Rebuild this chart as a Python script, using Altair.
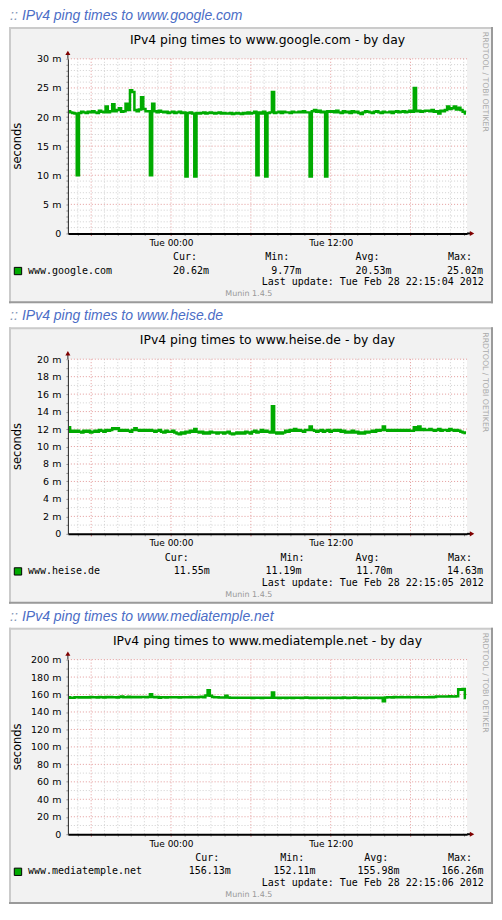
import altair as alt
import pandas as pd

# ------------------------------------------------------------------ data
START = pd.Timestamp("2012-02-27 16:15:00")
END = pd.Timestamp("2012-02-28 22:15:00")
FIRST_SAMPLE = pd.Timestamp("2012-02-27 16:20:00")
SAMPLE_STEP = pd.Timedelta(minutes=10)

hosts = ["www.google.com", "www.heise.de", "www.mediatemple.net"]

google_ms = [
    21.0, 20.8, 20.7, 20.6, 10.0, 20.7, 20.9, 20.8, 20.7, 20.9, 20.8, 21.0, 20.8, 20.7, 21.1, 20.9, 20.8, 21.8,
    20.8, 21.0, 22.2, 21.0, 21.2, 21.5, 20.9, 21.0, 22.3, 21.2, 24.6, 24.3, 21.2, 21.0, 21.3, 23.4, 21.4, 21.0,
    21.0, 10.0, 22.3, 21.0, 20.8, 21.1, 20.9, 20.8, 20.9, 20.7, 20.8, 20.9, 20.7, 20.8, 20.9, 20.7, 20.8, 9.8,
    20.7, 20.8, 20.6, 9.8, 20.7, 20.6, 20.7, 20.8, 20.6, 20.7, 20.8, 20.7, 20.6, 20.7, 20.8, 20.6, 20.7, 20.6,
    20.6, 20.7, 20.5, 20.6, 20.7, 20.6, 20.5, 20.7, 20.6, 20.8, 20.6, 20.7, 20.9, 10.0, 20.8, 20.6, 20.9, 9.8,
    20.7, 20.8, 24.3, 20.7, 20.8, 20.9, 20.7, 20.9, 20.8, 20.8, 20.7, 20.9, 20.8, 20.8, 20.9, 20.8, 21.0, 20.8,
    20.8, 9.8, 21.0, 21.2, 20.9, 21.1, 20.8, 20.9, 9.8, 21.0, 20.9, 21.0, 20.8, 21.1, 20.8, 20.7, 21.0, 20.8,
    20.9, 20.7, 21.0, 20.8, 20.9, 20.7, 20.5, 20.8, 21.0, 20.9, 20.8, 20.7, 20.9, 21.0, 20.8, 20.7, 20.9, 20.8,
    20.8, 20.9, 20.7, 20.9, 21.0, 20.8, 20.9, 21.0, 20.8, 20.9, 21.1, 20.9, 25.0, 21.0, 21.1, 20.9, 21.0, 21.1,
    21.1, 21.0, 21.2, 20.9, 21.0, 20.6, 21.1, 21.0, 21.2, 21.8, 21.4, 21.5, 21.8, 21.3, 21.6, 21.2, 20.9, 20.6,
]

heise_ms = [
    12.2, 11.7, 11.8, 11.7, 11.8, 11.7, 11.6, 11.8, 11.7, 11.8, 11.6, 11.7, 11.8, 11.7, 11.9, 11.8, 11.7, 11.9,
    11.8, 11.9, 12.1, 12.0, 12.1, 11.8, 11.9, 11.8, 11.9, 11.8, 11.7, 11.9, 12.1, 11.9, 11.8, 11.9, 11.8, 11.9,
    11.8, 11.9, 11.8, 11.7, 11.8, 11.9, 11.7, 11.6, 11.8, 11.7, 11.7, 11.8, 11.6, 11.5, 11.4, 11.6, 11.5, 11.7,
    11.6, 11.8, 11.7, 12.0, 11.7, 11.6, 11.7, 11.5, 11.6, 11.5, 11.7, 11.6, 11.6, 11.5, 11.6, 11.6, 11.5, 11.6,
    11.7, 11.5, 11.4, 11.5, 11.6, 11.5, 11.6, 11.5, 11.7, 11.6, 11.5, 11.7, 11.8, 11.6, 11.7, 11.9, 11.7, 11.8,
    11.7, 11.6, 14.6, 11.6, 11.5, 11.6, 11.5, 11.6, 11.8, 11.7, 11.9, 11.8, 12.0, 11.8, 11.9, 11.8, 11.7, 11.9,
    11.9, 12.3, 11.9, 11.8, 11.7, 11.8, 11.9, 11.7, 11.8, 11.9, 11.7, 11.8, 11.9, 11.8, 11.9, 11.7, 11.8, 11.6,
    11.7, 11.6, 11.8, 11.6, 11.7, 11.5, 11.6, 11.5, 11.7, 11.6, 11.7, 11.8, 11.7, 11.9, 11.8, 11.9, 12.3, 11.9,
    11.8, 11.9, 11.8, 11.9, 11.8, 11.9, 11.8, 11.9, 11.8, 11.9, 11.8, 11.8, 12.2, 11.9, 12.3, 11.9, 12.0, 11.9,
    11.9, 12.0, 11.9, 11.8, 11.9, 12.0, 11.8, 11.9, 11.9, 11.8, 12.0, 11.9, 11.8, 11.9, 11.8, 11.7, 11.6, 11.55,
]

mediatemple_ms = [
    157.0, 156.2, 156.3, 157.0, 156.8, 156.6, 157.0, 156.7, 157.0, 156.5, 157.2, 156.8, 157.0, 156.6, 157.1, 157.0, 156.7, 157.2,
    156.8, 157.2, 156.9, 157.0, 156.6, 157.2, 157.8, 157.0, 156.9, 157.4, 157.0, 157.2, 157.0, 157.1, 156.9, 157.2, 157.1, 157.0,
    157.1, 160.3, 157.2, 157.0, 157.1, 156.4, 156.8, 157.0, 156.6, 156.9, 157.0, 156.8, 157.0, 156.9, 156.7, 157.0, 156.8, 157.0,
    156.9, 157.1, 157.0, 156.8, 157.0, 157.1, 157.3, 157.0, 159.0, 164.9, 158.5, 157.2, 156.8, 157.0, 156.7, 156.6, 156.5, 158.7,
    156.5, 156.4, 156.3, 156.3, 156.2, 156.3, 156.2, 156.2, 156.3, 156.2, 156.2, 156.1, 156.2, 156.2, 156.2, 156.1, 156.2, 156.2,
    156.2, 156.2, 162.3, 156.2, 156.2, 156.1, 156.2, 156.2, 156.1, 156.2, 156.2, 156.1, 156.2, 156.2, 156.2, 156.1, 156.2, 156.6,
    156.2, 156.1, 156.2, 156.1, 156.2, 156.2, 156.1, 156.2, 156.2, 156.1, 156.2, 156.2, 156.1, 156.2, 156.2, 156.1, 156.5, 156.2,
    156.1, 156.2, 156.2, 156.6, 156.2, 156.1, 156.2, 156.2, 156.1, 156.2, 156.2, 156.1, 156.2, 156.2, 156.1, 156.2, 152.4, 156.6,
    156.8, 157.0, 156.6, 157.1, 157.0, 156.8, 157.2, 157.0, 156.9, 157.1, 157.0, 156.8, 157.0, 157.1, 156.9, 157.0, 156.8, 157.0,
    157.0, 157.1, 157.0, 157.2, 157.6, 157.8, 157.6, 157.8, 157.7, 157.8, 157.9, 157.7, 157.8, 158.0, 166.0, 165.5, 166.2, 156.1,
]

series = [google_ms, heise_ms, mediatemple_ms]
y_max = [30, 20, 200]
y_major_step = [5, 2, 20]
y_minor_step = [1, 1, 10]

stat_headers = ["Cur:", "Min:", "Avg:", "Max:"]
stat_cur = ["20.62m", "11.55m", "156.13m"]
stat_min = ["9.77m", "11.19m", "152.11m"]
stat_avg = ["20.53m", "11.70m", "155.98m"]
stat_max = ["25.02m", "14.63m", "166.26m"]
last_update = ["Tue Feb 28 22:15:04 2012", "Tue Feb 28 22:15:05 2012", "Tue Feb 28 22:15:06 2012"]

# legend text layout (pixels from plot origin)
header_x = [[105.3, 197.7, 288.3, 381.0], [97.0, 213.0, 288.3, 381.0], [127.7, 212.7, 297.0, 381.0]]
value_x = [[105.3, 203.7, 288.3, 380.0], [106.0, 198.0, 289.0, 380.0], [121.0, 206.0, 290.3, 374.3]]

# ------------------------------------------------------------------ style
SANS = "DejaVu Sans"
MONO = "DejaVu Sans Mono"
GREEN = "#00aa00"
ARROW = "#7f0000"
MAJOR = "#e39a9a"
MINOR = "#d0d0d0"
PANEL_BG = "#f2f2f2"
W, H = 400, 175
LEFT, RIGHT = -59, 427          # cell extent in x (486 px)
BOX_L, BOX_R = -59, 426         # grey panel extent in x
BOX_T, BOX_B = -32, 245         # grey panel extent in y


def ms(ts):
    return int(pd.Timestamp(ts).value // 10**6)


sample_times = [ms(FIRST_SAMPLE + i * SAMPLE_STEP) for i in range(len(google_ms))]
hour_ticks = [ms(t) for t in pd.date_range("2012-02-27 17:00", "2012-02-28 22:00", freq="h")]
one = pd.DataFrame({"d": [0]})


def txt(s, x, y, font=SANS, size=10, color="#000000", align="left", baseline="middle", **kw):
    return alt.Chart(one).mark_text(
        text=s, font=font, fontSize=size, color=color, align=align, baseline=baseline, **kw
    ).encode(x=alt.value(x), y=alt.value(y))


def box(x1, x2, y1, y2, **kw):
    return alt.Chart(one).mark_rect(**kw).encode(
        x=alt.value(x1), x2=alt.value(x2), y=alt.value(y1), y2=alt.value(y2)
    )


def rule(x1, x2, y1, y2, **kw):
    return alt.Chart(one).mark_rule(**kw).encode(
        x=alt.value(x1), x2=alt.value(x2), y=alt.value(y1), y2=alt.value(y2)
    )


def panel(k, top, bottom):
    xscale = alt.Scale(type="utc", domain=[ms(START), ms(END)], nice=False)
    yscale = alt.Scale(domain=[0, y_max[k]], nice=False, zero=True)
    step = y_major_step[k]

    xtick = {"condition": {"test": "utchours(datum.value) % 6 === 0", "value": "#c06060"}, "value": "#999999"}
    xax = alt.Axis(
        values=hour_ticks,
        labelExpr="utchours(datum.value) % 12 === 0 ? utcFormat(datum.value, '%a %H:%M') : ''",
        grid=False, ticks=True, tickSize=2, tickColor=xtick,
        domainColor="#000000", domainWidth=2,
        labelFont=SANS, labelFontSize=9, labelColor="#000000", labelPadding=3,
        labelOverlap=False, labelFlush=False, title=None, zindex=1,
    )
    yax = alt.Axis(
        values=list(range(0, y_max[k] + 1, y_minor_step[k])),
        labelExpr=f"datum.value % {step} === 0 ? (datum.value === 0 ? '0' : datum.value + ' m') : ''",
        grid=False, ticks=True, tickSize=2, tickColor="#999999",
        domainColor="#202020", domainWidth=1,
        labelFont=SANS, labelFontSize=9.5, labelColor="#000000", labelPadding=5,
        labelOverlap=False, title=None, zindex=1,
    )
    X = lambda f: alt.X(f, scale=xscale, axis=xax)
    Y = lambda f: alt.Y(f, scale=yscale, axis=yax)

    df = pd.DataFrame({"t": sample_times, "v": series[k]})
    line = alt.Chart(df).mark_line(interpolate="step", color=GREEN, strokeWidth=2.5).encode(
        x=X("t:T"), y=Y("v:Q")
    )

    hours_df = pd.DataFrame({"t": hour_ticks})
    ygrid_df = pd.DataFrame({"v": list(range(y_minor_step[k], y_max[k] + 1, y_minor_step[k]))})
    vminor = alt.Chart(hours_df).transform_filter("utchours(datum.t) % 6 !== 0").mark_rule(
        color=MINOR, strokeDash=[1, 2], strokeWidth=1).encode(x=X("t:T"))
    vmajor = alt.Chart(hours_df).transform_filter("utchours(datum.t) % 6 === 0").mark_rule(
        color=MAJOR, strokeDash=[1, 2], strokeWidth=1).encode(x=X("t:T"))
    hminor = alt.Chart(ygrid_df).transform_filter(f"datum.v % {step} !== 0").mark_rule(
        color=MINOR, strokeDash=[1, 2], strokeWidth=1).encode(y=Y("v:Q"))
    hmajor = alt.Chart(ygrid_df).transform_filter(f"datum.v % {step} === 0").mark_rule(
        color=MAJOR, strokeDash=[1, 2], strokeWidth=1).encode(y=Y("v:Q"))

    layers = [
        box(LEFT, RIGHT, top, bottom, opacity=0),
        box(BOX_L, BOX_R, BOX_T, BOX_B, fill=PANEL_BG),
        rule(BOX_L, BOX_R, BOX_T + 1, BOX_T + 1, color="#cbcbcb", strokeWidth=2),
        rule(BOX_L + 1, BOX_L + 1, BOX_T, BOX_B, color="#cbcbcb", strokeWidth=2),
        rule(BOX_L, BOX_R, BOX_B - 1, BOX_B - 1, color="#9a9a9a", strokeWidth=2),
        rule(BOX_R - 1, BOX_R - 1, BOX_T, BOX_B, color="#9a9a9a", strokeWidth=2),
        box(0, W, 0, H, fill="white"),
        vminor, hminor, vmajor, hmajor,
        line,
        rule(0, 0, -5, 0, color="#202020", strokeWidth=1),
        rule(400, 404, H, H, color="#000000", strokeWidth=2),
        alt.Chart(one).mark_point(shape="triangle-up", filled=True, size=26, color=ARROW, opacity=1)
        .encode(x=alt.value(0), y=alt.value(-6)),
        alt.Chart(one).mark_point(shape="triangle-right", filled=True, size=26, color=ARROW, opacity=1)
        .encode(x=alt.value(405), y=alt.value(H)),
        # heading above the box
        txt("::", BOX_L + 1, -43, font="Liberation Sans", size=14, color="#8393b5", fontStyle="italic"),
        txt("IPv4 ping times to " + hosts[k], BOX_L + 13, -43, font="Liberation Sans", size=14,
            color="#4b6dc6", fontStyle="italic"),
        # graph title
        txt(f"IPv4 ping times to {hosts[k]} - by day", 200, -19, size=12.4, align="center"),
        txt("seconds", -50, H / 2, size=11.5, align="center", angle=270),
        txt("RRDTOOL / TOBI OETIKER", BOX_R - 8, -27, size=7.8, color="#aaaaaa", angle=90),
        # legend
        box(-53.7, -46.3, 209, 216.3, fill=GREEN, stroke="#000000", strokeWidth=1),
        txt(hosts[k], -40, 212.3, font=MONO, size=10),
    ]
    for hx, h in zip(header_x[k], stat_headers):
        layers.append(txt(h, hx, 199, font=MONO, size=10))
    for vx, v in zip(value_x[k], [stat_cur[k], stat_min[k], stat_avg[k], stat_max[k]]):
        layers.append(txt(v, vx, 212.3, font=MONO, size=10))
    layers.append(txt("Last update: " + last_update[k], 194.3, 224, font=MONO, size=10))
    layers.append(txt("Munin 1.4.5", 181.3, 236, size=8, color="#999999", align="center"))
    return alt.layer(*layers).properties(width=W, height=H)


chart = (
    alt.vconcat(panel(0, -50, 251), panel(1, -50, 251), panel(2, -50, 246), spacing=0)
    .properties(background="white", padding=0)
    .configure_view(strokeOpacity=0)
)

chart.save("out.html", embed_options={"renderer": "svg", "actions": False})
